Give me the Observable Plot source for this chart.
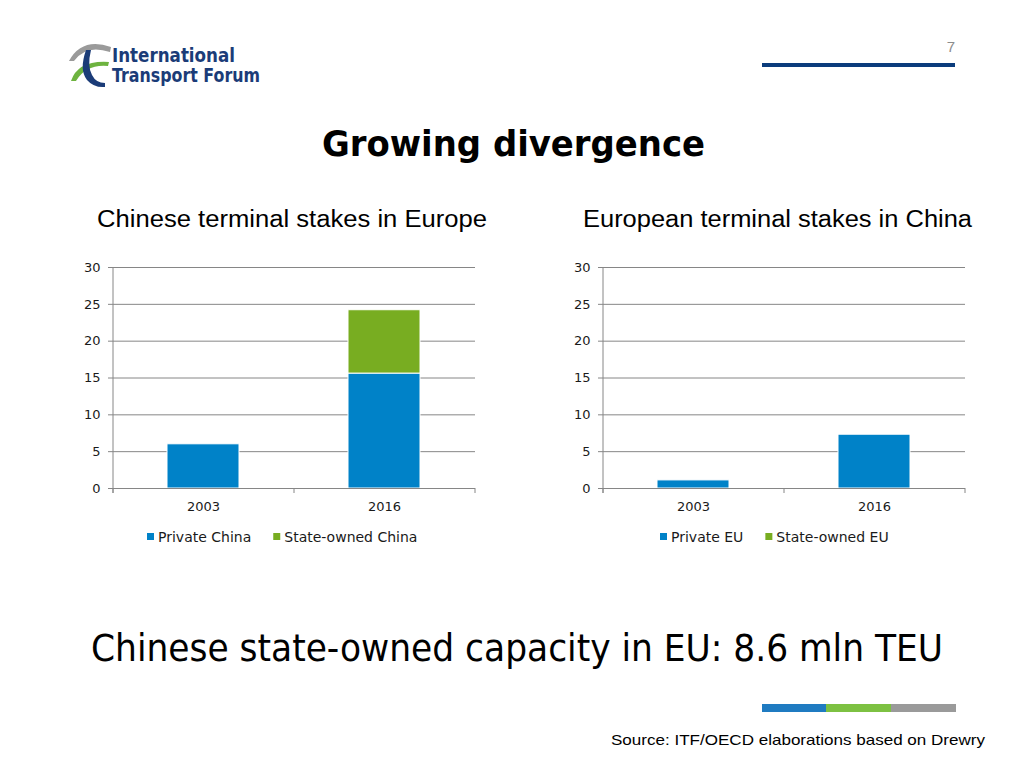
<!DOCTYPE html>
<html><head><meta charset="utf-8">
<script src="https://cdn.jsdelivr.net/npm/d3@7"></script>
<script src="https://cdn.jsdelivr.net/npm/@observablehq/plot@0.6"></script>
<style>
html,body{margin:0;padding:0;background:#fff;}
#page{position:relative;width:1024px;height:768px;overflow:hidden;background:#fff;}
#overlay{position:absolute;left:0;top:0;}
.panel{position:absolute;}
</style></head><body>
<div id="page">
<svg id="overlay" width="1024" height="768"></svg>
<div id="left" class="panel" style="left:73px;top:257px"></div>
<div id="right" class="panel" style="left:563px;top:257px"></div>
</div>
<script>
// ---- data ----
const years = ["2003", "2016"];
const seriesLeft = ["Private China", "State-owned China"];
const privateChina = [6.0, 15.6];
const stateChina = [0, 8.6];
const seriesRight = ["Private EU", "State-owned EU"];
const privateEU = [1.1, 7.3];
const stateEU = [0, 0];
const yTicks = [0, 5, 10, 15, 20, 25, 30];
const seriesColors = ["#0082C8", "#78AD21"];

function rowsFor(series, a, b) {
  const rows = [];
  years.forEach((y, i) => {
    rows.push({year: y, series: series[0], value: a[i]});
    rows.push({year: y, series: series[1], value: b[i]});
  });
  return rows;
}

function panel(rows, series) {
  const chart = Plot.plot({
    width: 407, height: 261,
    marginLeft: 40, marginRight: 5, marginTop: 10, marginBottom: 30,
    style: {fontFamily: "DejaVu Sans, Verdana, sans-serif", fontSize: "13px", color: "#1a1a1a", background: "transparent", overflow: "visible"},
    x: {domain: years, paddingInner: 0.6, paddingOuter: 0.3, label: null},
    y: {domain: [0, 30], label: null},
    color: {domain: series, range: seriesColors},
    marks: [
      Plot.gridY(yTicks, {stroke: "#868686", strokeOpacity: 1}),
      Plot.axisY(yTicks, {tickSize: 5, tickPadding: 8, stroke: "#868686", label: null}),
      Plot.axisX({tickSize: 0, tickPadding: 13, label: null}),
      Plot.barY(rows, {x: "year", y: "value", fill: "series", order: series, stroke: "#ffffff", strokeWidth: 1}),
      Plot.ruleY([0], {stroke: "#868686"})
    ]
  });
  const sx = chart.scale("x"), sy = chart.scale("y");
  const [x0, x1] = sx.range;
  const [yb, yt] = sy.range;
  const step = (x1 - x0) / years.length;
  const g = d3.select(chart).append("g").attr("stroke", "#868686").attr("fill", "none");
  g.append("line").attr("x1", x0).attr("x2", x0).attr("y1", yt).attr("y2", yb + 5);
  for (let i = 0; i <= years.length; i++) {
    const x = x0 + i * step;
    g.append("line").attr("x1", x).attr("x2", x).attr("y1", yb).attr("y2", yb + 5);
  }
  return chart;
}

document.getElementById("left").appendChild(panel(rowsFor(seriesLeft, privateChina, stateChina), seriesLeft));
document.getElementById("right").appendChild(panel(rowsFor(seriesRight, privateEU, stateEU), seriesRight));

// ---- slide decorations and texts ----
const svg = d3.select("#overlay");
function txt(x, y, s, opts) {
  const t = svg.append("text").attr("x", x).attr("y", y).text(s)
    .attr("font-family", opts.family || "Liberation Sans, Arial, sans-serif")
    .attr("font-size", opts.size).attr("fill", opts.fill || "#000");
  if (opts.weight) t.attr("font-weight", opts.weight);
  if (opts.anchor) t.attr("text-anchor", opts.anchor);
  if (opts.len) t.attr("textLength", opts.len).attr("lengthAdjust", "spacingAndGlyphs");
  return t;
}
// page number & top line
txt(951, 52, "7", {size: 15, fill: "#8c8c8c", anchor: "middle"});
svg.append("rect").attr("x", 762).attr("y", 63).attr("width", 193).attr("height", 4).attr("fill", "#0B3C7C");
// logo
svg.append("path").attr("d", "M69,61 Q82,37 111,47 L110,52 Q86,44 74,61 Z").attr("fill", "#9A9A9A");
svg.append("path").attr("d", "M71,81 Q78,60 109,62 L108,66 Q86,64 76,81 Z").attr("fill", "#6DB33F");
svg.append("path").attr("d", "M86,50 Q79,70 87,80 Q94,88 105,87 L105,83 Q96,83 92,75 Q87,66 91,50 Z").attr("fill", "#1B3C78");
txt(112, 62, "International", {size: 19, weight: "bold", fill: "#1B3C78", len: 123, family: "DejaVu Sans, sans-serif"});
txt(112, 82, "Transport Forum", {size: 19, weight: "bold", fill: "#1B3C78", len: 148, family: "DejaVu Sans, sans-serif"});
// title
txt(322, 156, "Growing divergence", {size: 36, weight: "bold", len: 383, family: "DejaVu Sans, Verdana, sans-serif"});
// panel titles
txt(97, 227, "Chinese terminal stakes in Europe", {size: 23, len: 390});
txt(583, 227, "European terminal stakes in China", {size: 23, len: 389});
// legends
function legend(x, y, series) {
  let cx = x;
  series.forEach((s, i) => {
    svg.append("rect").attr("x", cx).attr("y", y - 4).attr("width", 7).attr("height", 7).attr("fill", seriesColors[i]);
    const t = txt(cx + 11, y + 5, s, {size: 14, fill: "#1a1a1a", family: "DejaVu Sans, Verdana, sans-serif"});
    cx = cx + 11 + t.node().getComputedTextLength() + 22;
  });
}
legend(147, 537, seriesLeft);
legend(660, 537, seriesRight);
// big statement (condensed face, stretched vertically to match the slide)
svg.append("text")
  .attr("transform", "translate(91,661) scale(1,1.12)")
  .attr("x", 0).attr("y", 0)
  .attr("font-family", "DejaVu Sans Condensed, DejaVu Sans, sans-serif")
  .attr("font-size", 34).attr("fill", "#000")
  .attr("textLength", 852).attr("lengthAdjust", "spacingAndGlyphs")
  .text("Chinese state-owned capacity in EU: 8.6 mln TEU");
// bottom colour strip
svg.append("rect").attr("x", 762).attr("y", 704).attr("width", 64).attr("height", 8).attr("fill", "#1F7BC1");
svg.append("rect").attr("x", 826).attr("y", 704).attr("width", 65).attr("height", 8).attr("fill", "#7DC142");
svg.append("rect").attr("x", 891).attr("y", 704).attr("width", 65).attr("height", 8).attr("fill", "#9A9A9A");
// source
txt(611, 745, "Source: ITF/OECD elaborations based on Drewry", {size: 15, len: 374});
</script>
</body></html>
